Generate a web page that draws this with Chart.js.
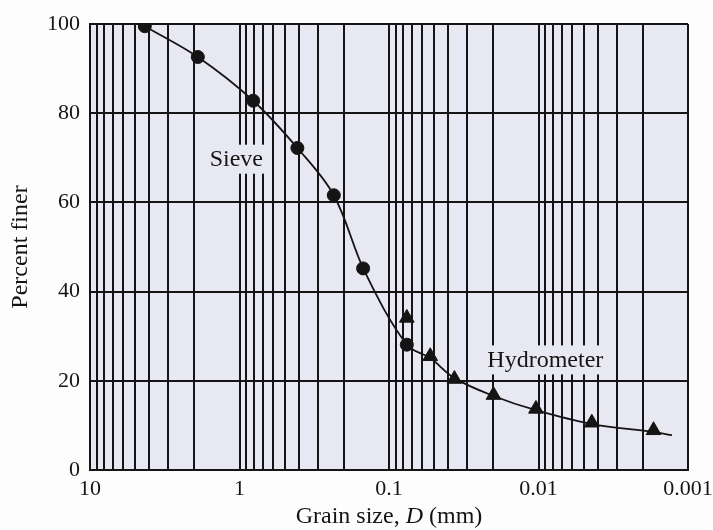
<!DOCTYPE html>
<html>
<head>
<meta charset="utf-8">
<script src="https://cdn.jsdelivr.net/npm/chart.js@4"></script>
<style>
  html, body { margin: 0; padding: 0; background: #fdfdfd; }
</style>
</head>
<body>
<canvas id="myChart" width="713" height="530"></canvas>
<script>
// sieve analysis (circles)
const sieveSize = [4.3, 1.9, 0.81, 0.41, 0.234, 0.149, 0.076];
const sievePercent = [99.5, 92.6, 82.8, 72.2, 61.6, 45.2, 28.1];

// hydrometer analysis (triangles)
const hydroSize = [0.076, 0.053, 0.0365, 0.02, 0.0104, 0.0044, 0.0017];
const hydroPercent = [34.1, 25.5, 20.4, 16.8, 13.7, 10.6, 8.9];

// hand drawn grading curve through both tests
const curveSize = [4.3, 1.9, 0.81, 0.41, 0.234, 0.145, 0.076, 0.053, 0.0365, 0.02, 0.0104, 0.0044, 0.0017, 0.00128];
const curvePercent = [99.5, 92.6, 82.8, 72.2, 61.6, 44.4, 28.1, 25.1, 20.6, 16.6, 13.4, 10.3, 8.5, 7.8];

const xTickValues = [10, 1, 0.1, 0.01, 0.001];
const xTickLabels = ['10', '1', '0.1', '0.01', '0.001'];
const yTickValues = [0, 20, 40, 60, 80, 100];

const noteText = ['Sieve', 'Hydrometer'];
const noteSize = [1.05, 0.009];
const notePercent = [69.8, 24.8];

const FONT = "'Liberation Serif', 'Times New Roman', serif";
const INK = '#141414';
const PAPER = '#e8e8f3';

// log paper lines: 1..9 in every decade
const gridValues = [];
for (let e = -3; e <= 0; e++) {
    for (let m = 1; m <= 9; m++) {
        gridValues.push(parseFloat((m * Math.pow(10, e)).toPrecision(3)));
    }
}
gridValues.push(10);

function toPoints(xs, ys){
    return xs.map((x, i) => ({x: x, y: ys[i]}));
}

const paperPlugin = {
    id: 'paper',
    beforeDraw(chart){
        const {ctx, chartArea} = chart;
        ctx.save();
        ctx.fillStyle = '#fdfdfd';
        ctx.fillRect(0, 0, chart.width, chart.height);
        ctx.fillStyle = PAPER;
        ctx.fillRect(chartArea.left, chartArea.top, chartArea.right - chartArea.left, chartArea.bottom - chartArea.top);
        ctx.restore();
    }
};

const notePlugin = {
    id: 'notes',
    beforeDatasetsDraw(chart){
        const {ctx} = chart;
        const xs = chart.scales.x;
        const ys = chart.scales.y;
        ctx.save();
        ctx.font = '24px ' + FONT;
        ctx.textAlign = 'center';
        ctx.textBaseline = 'middle';
        noteText.forEach((t, i) => {
            const px = xs.getPixelForValue(noteSize[i]);
            const py = ys.getPixelForValue(notePercent[i]);
            const w = ctx.measureText(t).width + 10;
            ctx.fillStyle = PAPER;
            ctx.fillRect(px - w / 2, py - 14, w, 29);
            ctx.fillStyle = INK;
            ctx.fillText(t, px, py + 1);
        });
        ctx.restore();
    },
    afterDraw(chart){
        // x axis title with italic D
        const {ctx, chartArea} = chart;
        const parts = [['Grain size, ', 'normal'], ['D', 'italic'], [' (mm)', 'normal']];
        ctx.save();
        ctx.fillStyle = INK;
        ctx.textBaseline = 'middle';
        ctx.textAlign = 'left';
        let total = 0;
        parts.forEach(p => {
            ctx.font = p[1] + ' 24px ' + FONT;
            total += ctx.measureText(p[0]).width;
        });
        let x = (chartArea.left + chartArea.right) / 2 - total / 2;
        parts.forEach(p => {
            ctx.font = p[1] + ' 24px ' + FONT;
            ctx.fillText(p[0], x, 517);
            x += ctx.measureText(p[0]).width;
        });
        ctx.restore();
    }
};

const ctx = document.getElementById('myChart').getContext('2d');
new Chart(ctx, {
    type: 'scatter',
    data: {
        datasets: [
            {
                label: 'curve',
                data: toPoints(curveSize, curvePercent),
                showLine: true,
                pointRadius: 0,
                borderColor: INK,
                borderWidth: 1.8,
                tension: 0.35,
                order: 2
            },
            {
                label: 'Sieve',
                data: toPoints(sieveSize, sievePercent),
                pointStyle: 'circle',
                pointRadius: 6.5,
                backgroundColor: INK,
                borderColor: INK,
                order: 1
            },
            {
                label: 'Hydrometer',
                data: toPoints(hydroSize, hydroPercent),
                pointStyle: 'triangle',
                pointRadius: 8.5,
                backgroundColor: INK,
                borderColor: INK,
                order: 1
            }
        ]
    },
    options: {
        responsive: false,
        animation: false,
        layout: { padding: { top: 24, right: 25, bottom: 0, left: 0 } },
        plugins: {
            legend: { display: false },
            tooltip: { enabled: false }
        },
        scales: {
            x: {
                type: 'logarithmic',
                reverse: true,
                min: 0.001,
                max: 10,
                afterBuildTicks: s => { s.ticks = gridValues.map(v => ({value: v})); },
                afterFit: s => { s.height = 60; },
                ticks: {
                    autoSkip: false,
                    maxRotation: 0,
                    padding: 6,
                    color: INK,
                    font: { family: FONT, size: 22 },
                    callback: (v) => {
                        const i = xTickValues.findIndex(t => Math.abs(t - v) / t < 1e-6);
                        return i >= 0 ? xTickLabels[i] : '';
                    }
                },
                grid: { color: INK, lineWidth: 2, drawTicks: false },
                border: { color: INK, width: 2 }
            },
            y: {
                min: 0,
                max: 100,
                afterBuildTicks: s => { s.ticks = yTickValues.map(v => ({value: v})); },
                afterFit: s => { s.width = 90; },
                ticks: {
                    padding: 10,
                    color: INK,
                    font: { family: FONT, size: 22 }
                },
                grid: { color: INK, lineWidth: 2, drawTicks: false },
                border: { color: INK, width: 2 },
                title: {
                    display: true,
                    text: 'Percent finer',
                    color: INK,
                    font: { family: FONT, size: 24 },
                    padding: { top: 6, bottom: 0 }
                }
            }
        }
    },
    plugins: [paperPlugin, notePlugin]
});
</script>
</body>
</html>
